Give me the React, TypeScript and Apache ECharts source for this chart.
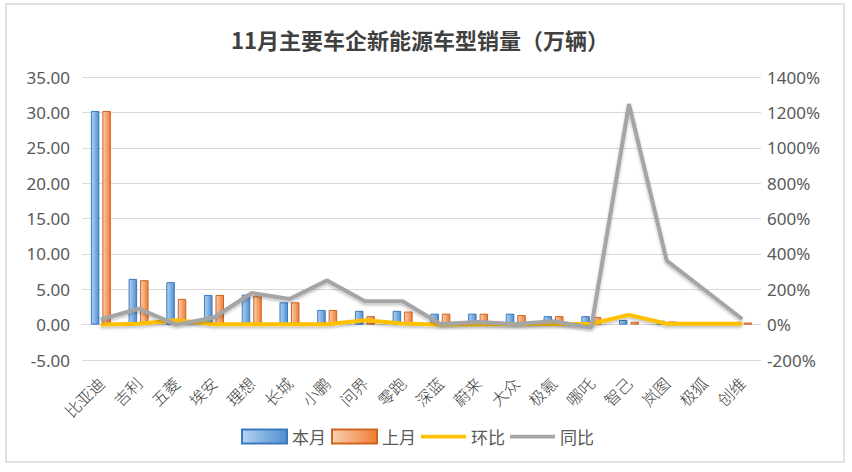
import React, { useEffect, useRef } from 'react';
import * as echarts from 'echarts';

const brands = ['比亚迪', '吉利', '五菱', '埃安', '理想', '长城', '小鹏', '问界', '零跑', '深蓝', '蔚来', '大众', '极氪', '哪吒', '智己', '岚图', '极狐', '创维'];
const thisMonth = [30.2, 6.47, 6.0, 4.2, 4.25, 3.16, 2.08, 1.95, 1.95, 1.55, 1.55, 1.55, 1.2, 1.2, 0.65, 0.55, 0.12, 0.05];
const lastMonth = [30.2, 6.28, 3.64, 4.2, 4.1, 3.16, 2.07, 1.2, 1.85, 1.55, 1.55, 1.35, 1.2, 1.1, 0.4, 0.45, 0.1, 0.3];
const momPct = [0, 5, 25, 2, 2, 2, 2, 25, 7, 0, 2, 4, 3, 5, 55, 5, 5, 5];
const yoyPct = [30, 90, 0, 40, 179, 145, 250, 132, 132, 4, 15, 4, 19, -17, 1247, 362, 197, 32];

const axisFont = '"Noto Sans", "Noto Sans CJK SC", sans-serif';
const cjkFont = '"Noto Sans CJK SC", sans-serif';
// thin bar used as the legend icon of the two lines
const lineIcon = 'path://M0,0h48v4h-48z';

const barFill = (light: string, dark: string) =>
  new echarts.graphic.LinearGradient(0, 0, 1, 0, [
    { offset: 0, color: light },
    { offset: 1, color: dark },
  ]);

const App = () => {
  const chartRef = useRef<HTMLDivElement>(null);

  useEffect(() => {
    if (!chartRef.current) return;
    const chart = echarts.init(chartRef.current, null, { renderer: 'svg' });

    const lineShadow = {
      shadowColor: 'rgba(0,0,0,0.25)',
      shadowBlur: 3,
      shadowOffsetY: 2,
    };

    const option: echarts.EChartsOption = {
      animation: false,
      backgroundColor: '#fff',
      title: {
        text: '11月主要车企新能源车型销量（万辆）',
        left: 226,
        top: 23,
        textStyle: { fontFamily: cjkFont, fontSize: 22, fontWeight: 'bold', color: '#404040' },
      },
      graphic: [
        {
          type: 'rect',
          shape: { x: 6, y: 4, width: 838, height: 458 },
          style: { fill: 'none', stroke: '#d9d9d9', lineWidth: 1.5 },
          silent: true,
        },
      ],
      legend: {
        left: 236,
        top: 423,
        itemWidth: 45,
        itemHeight: 14,
        itemGap: 5,
        textStyle: { fontFamily: cjkFont, fontSize: 17, color: '#595959' },
        data: [
          { name: '本月', icon: 'rect' },
          { name: '上月', icon: 'rect' },
          { name: '环比', icon: lineIcon },
          { name: '同比', icon: lineIcon },
        ],
      },
      grid: { left: 82, right: 91, top: 77, bottom: 112 },
      xAxis: {
        type: 'category',
        data: brands,
        axisLine: { onZero: true, lineStyle: { color: '#d9d9d9' } },
        axisTick: { show: false },
        axisLabel: {
          rotate: 45,
          margin: 20,
          interval: 0,
          fontFamily: cjkFont,
          fontSize: 16,
          fontWeight: 300,
          color: '#404040',
        },
      },
      yAxis: [
        {
          type: 'value',
          min: -5,
          max: 35,
          interval: 5,
          axisLine: { show: false },
          axisTick: { show: false },
          splitLine: { lineStyle: { color: '#d9d9d9' } },
          axisLabel: {
            formatter: (v: number) => v.toFixed(2),
            fontFamily: axisFont,
            fontSize: 17,
            color: '#595959',
            margin: 12,
          },
        },
        {
          type: 'value',
          min: -200,
          max: 1400,
          interval: 200,
          axisLine: { show: false },
          axisTick: { show: false },
          splitLine: { show: false },
          axisLabel: {
            formatter: (v: number) => v + '%',
            fontFamily: axisFont,
            fontSize: 17,
            color: '#595959',
            margin: 6,
          },
        },
      ],
      series: [
        {
          name: '本月',
          type: 'bar',
          data: thisMonth,
          barWidth: 8.5,
          barGap: '35%',
          itemStyle: {
            color: barFill('#b4d3f0', '#4f8fd2'),
            borderColor: '#3a78c0',
            borderWidth: 1,
          },
        },
        {
          name: '上月',
          type: 'bar',
          data: lastMonth,
          barWidth: 8.5,
          itemStyle: {
            color: barFill('#f9cfb2', '#ee7d34'),
            borderColor: '#cf6420',
            borderWidth: 1,
          },
        },
        {
          name: '环比',
          type: 'line',
          yAxisIndex: 1,
          data: momPct,
          symbol: 'none',
          itemStyle: { color: '#ffc000' },
          lineStyle: { color: '#ffc000', width: 4, ...lineShadow },
          z: 3,
        },
        {
          name: '同比',
          type: 'line',
          yAxisIndex: 1,
          data: yoyPct,
          symbol: 'none',
          itemStyle: { color: '#a5a5a5' },
          lineStyle: { color: '#a5a5a5', width: 4, ...lineShadow },
          z: 4,
        },
      ],
    };

    chart.setOption(option);
    return () => {
      chart.dispose();
    };
  }, []);

  return (
    <div
      ref={chartRef}
      style={{ position: 'fixed', left: 0, top: 0, width: 852, height: 472, background: '#fff' }}
    />
  );
};

export default App;
